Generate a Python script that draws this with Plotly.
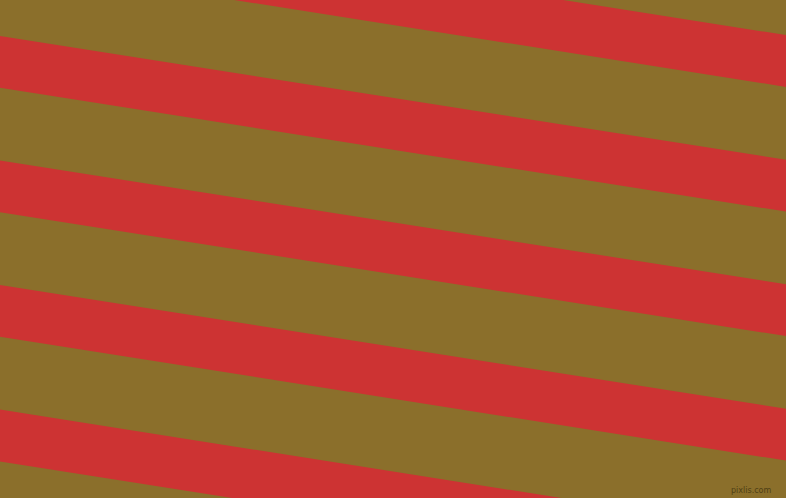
import plotly.graph_objects as go

# Stripe data: top edge of each red band where it meets the left edge (px), band thickness and slope
band_tops = [-88.7, 36.0, 160.5, 285.0, 409.6]
band_height = 51.8
slope = 0.1575
width = 786
height = 498

olive = "#8b6f2b"
red = "#cd3333"

fig = go.Figure()
for t in band_tops:
    xs = [0, width, width, 0, 0]
    ys = [t, t + slope * width, t + band_height + slope * width, t + band_height, t]
    fig.add_trace(go.Scatter(x=xs, y=ys, mode="lines", fill="toself",
                             fillcolor=red, line=dict(width=0, color=red),
                             hoverinfo="skip", showlegend=False))

fig.add_annotation(text="pixlis.com", x=0.984, y=0.002, xref="paper", yref="paper",
                   xanchor="right", yanchor="bottom", showarrow=False,
                   font=dict(family="DejaVu Sans", size=8, color="#4f3f15"))

fig.update_layout(
    width=width, height=height,
    margin=dict(l=0, r=0, t=0, b=0),
    paper_bgcolor=olive, plot_bgcolor=olive,
    xaxis=dict(range=[0, width], visible=False, fixedrange=True),
    yaxis=dict(range=[height, 0], visible=False, fixedrange=True),
)
fig.write_html("out.html", config={"displayModeBar": False},
               post_script="document.body.style.margin='0';document.body.style.overflow='hidden';document.body.style.background='" + olive + "';")
